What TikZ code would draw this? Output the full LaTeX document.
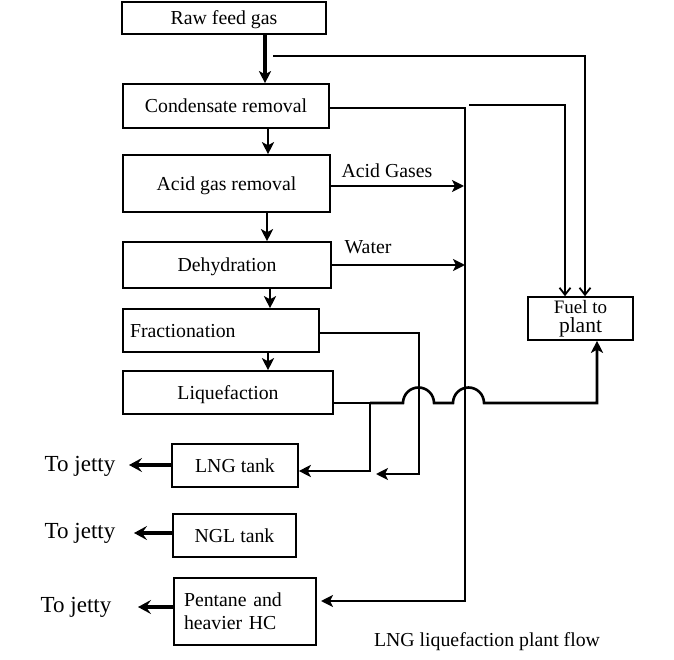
\documentclass[tikz,border=0pt]{standalone}
\usepackage{fontspec}
\setmainfont{Liberation Serif}
\usetikzlibrary{arrows.meta}
\begin{document}
\begin{tikzpicture}[x=1pt,y=-1pt,
 box/.style={draw, line width=1.6pt, inner sep=0pt, font=\fontsize{19.8}{23}\selectfont},
 onel/.style={text depth=0pt},
 main/.style={line width=2.6pt},
 thin/.style={line width=1.8pt},
 jetline/.style={line width=3.6pt},
 tip/.style={-{Stealth[length=12pt,width=12pt,inset=3pt]}},
 jet/.style={-{Stealth[length=13pt,width=14pt,inset=5pt]}},
 openarr/.style={-{Straight Barb[length=7pt,width=11pt]}},
 lbl/.style={font=\fontsize{19.8}{23}\selectfont, inner sep=0pt},
 jtxt/.style={font=\fontsize{23}{26}\selectfont, inner sep=0pt}]
\useasboundingbox (0,0) rectangle (674,660);
% boxes
\node[box, onel, minimum width=204pt, minimum height=32pt] (raw) at (224,18) {Raw feed gas};
\node[box, onel, minimum width=206pt, minimum height=44pt] (cond) at (226,106) {Condensate removal};
\node[box, onel, minimum width=207pt, minimum height=57pt] (acid) at (226.5,183.5) {Acid gas removal};
\node[box, onel, minimum width=208pt, minimum height=46pt] (dehy) at (227,265) {Dehydration};
\node[box, onel, minimum height=43pt, inner xsep=7pt, text width=182pt, align=left] (frac) at (221,330.5) {Fractionation};
\node[box, onel, minimum width=210pt, minimum height=43pt] (liq) at (228,392.5) {Liquefaction};
\node[box, onel, minimum width=126pt, minimum height=43pt] (lng) at (235,465.5) {LNG tank};
\node[box, onel, minimum width=123pt, minimum height=43pt] (ngl) at (234.5,535.5) {NGL tank};
\node[box, minimum height=67pt, inner xsep=10pt, text width=122pt, align=left] (pent) at (245,611.5) {Pentane and\\heavier HC};
\node[box, minimum width=105pt, minimum height=43pt, align=center, font=\fontsize{19}{19}\selectfont] (fuel) at (580.5,318.5) {Fuel to\\{\fontsize{21.5}{19}\selectfont plant}};
% labels
\node[lbl] (lag) at (387,171) {Acid Gases};
\node[lbl] (lw) at (368,247) {Water};
\node[jtxt] (j1) at (80,466) {To jetty};
\node[jtxt] (j2) at (80,533) {To jetty};
\node[jtxt] (j3) at (76,607) {To jetty};
\node[lbl] (cap) at (487,642) {LNG liquefaction plant flow};
% column coordinates
\coordinate (c265) at (265,0);
\coordinate (c268) at (268,0);
\coordinate (c267) at (267,0);
\coordinate (c270) at (270,0);
\coordinate (c565) at (565,0);
\coordinate (c585) at (585,0);
\coordinate (c597) at (597,0);
% main chain
\draw[line width=3.2pt,tip] (raw.south -| c265) -- (cond.north -| c265);
\draw[main,tip] (cond.south -| c268) -- (acid.north -| c268);
\draw[main,tip] (acid.south -| c267) -- (dehy.north -| c267);
\draw[main,tip] (dehy.south -| c270) -- (frac.north -| c270);
\draw[main,tip] (frac.south -| c268) -- (liq.north -| c268);
% fuel lines
\coordinate (f1) at (273,56);
\coordinate (f2) at (469,105);
\draw[thin,openarr] (f1) -| (fuel.north -| c585);
\draw[thin,openarr] (f2) -| (fuel.north -| c565);
% trunk
\coordinate (tb) at (465,601);
\coordinate (pe) at (321,601);
\draw[main,tip] (cond.east |- 0,108) -| (tb) -- (pe);
\coordinate (ta) at (464,186);
\coordinate (tw) at (465,265);
\draw[main,tip] (acid.east |- ta) -- (ta);
\draw[main,tip] (dehy.east |- tw) -- (tw);
% fractionation return
\coordinate (fj) at (419,474);
\coordinate (fe) at (376,474);
\draw[main,tip] (frac.east |- 0,333) -| (fj) -- (fe);
% liquefaction
\coordinate (lj) at (370,403);
\coordinate (lb) at (370,471);
\draw[main,tip] (liq.east |- lj) -| (lb) -- (lng.east |- lb);
\coordinate (h1) at (403,403);
\coordinate (h2) at (453,403);
\draw[main,tip] (lj) -- (h1) arc[start angle=180,end angle=0,radius=15.5pt] -- (h2) arc[start angle=180,end angle=0,radius=15.5pt] -| (fuel.south -| c597);
% to jetty
\coordinate (t1) at (129,465);
\coordinate (t2) at (134,533);
\coordinate (t3) at (138,607);
\draw[jetline,jet] (lng.west |- t1) -- (t1);
\draw[jetline,jet] (ngl.west |- t2) -- (t2);
\draw[jetline,jet] (pent.west |- t3) -- (t3);
\end{tikzpicture}
\end{document}
